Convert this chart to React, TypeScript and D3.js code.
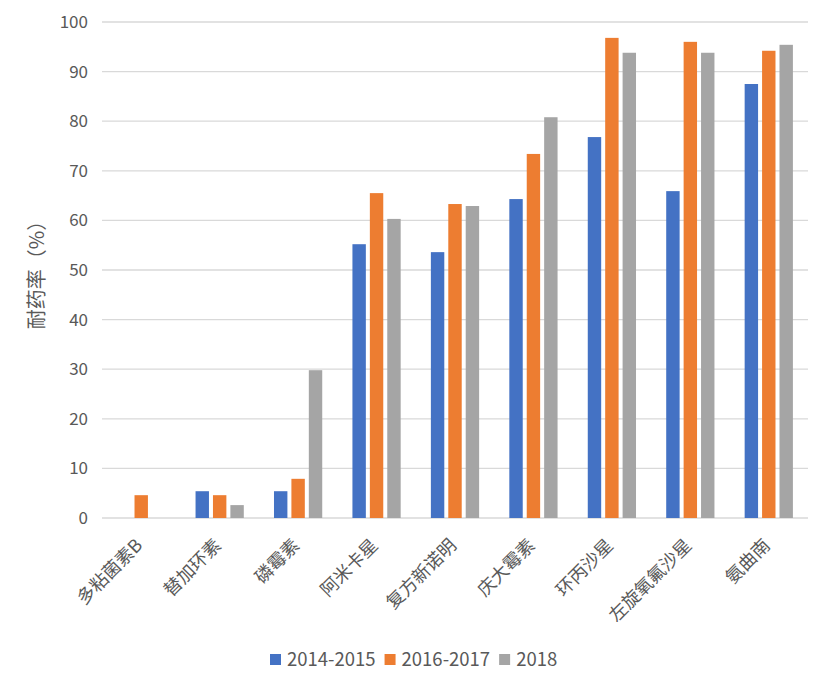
import { useEffect, useRef } from 'react';
import * as d3 from 'd3';

const categories = ['多粘菌素B', '替加环素', '磷霉素', '阿米卡星', '复方新诺明', '庆大霉素', '环丙沙星', '左旋氧氟沙星', '氨曲南'];
const seriesNames = ['2014-2015', '2016-2017', '2018'];
const colors = ['#4472C4', '#ED7D31', '#A5A5A5'];
const values2014 = [0, 5.4, 5.4, 55.2, 53.6, 64.3, 76.8, 65.9, 87.5];
const values2016 = [4.6, 4.6, 7.9, 65.5, 63.3, 73.4, 96.8, 96.0, 94.2];
const values2018 = [0, 2.6, 29.8, 60.3, 62.9, 80.8, 93.8, 93.8, 95.4];
const yTicks = [0, 10, 20, 30, 40, 50, 60, 70, 80, 90, 100];

const width = 831;
const height = 691;
const margin = { left: 102, right: 23, top: 22, bottom: 173 };
const font = '"Noto Sans CJK SC", "Noto Sans", sans-serif';
const textColor = '#595959';

function App() {
  const svgRef = useRef<SVGSVGElement>(null);

  useEffect(() => {
    if (svgRef.current === null) return;
    const svg = d3.select(svgRef.current);
    svg.selectAll('*').remove();

    const graphWidth = width - margin.left - margin.right;
    const graphHeight = height - margin.top - margin.bottom;
    const series = [values2014, values2016, values2018];

    const x0 = d3.scaleBand()
      .domain(categories)
      .range([0, graphWidth])
      .paddingInner(0.385)
      .paddingOuter(0.1925);

    const x1 = d3.scaleBand()
      .domain(seriesNames)
      .range([0, x0.bandwidth()])
      .paddingInner(0.23);

    const y = d3.scaleLinear().domain([0, 100]).range([graphHeight, 0]);

    const body = svg.append('g').attr('transform', `translate(${margin.left}, ${margin.top})`);

    // gridlines
    body.append('g')
      .selectAll('line')
      .data(yTicks)
      .enter()
      .append('line')
      .attr('x1', 0)
      .attr('x2', graphWidth)
      .attr('y1', (d) => y(d))
      .attr('y2', (d) => y(d))
      .attr('stroke', '#D9D9D9')
      .attr('stroke-width', 1.3);

    // y tick labels
    body.append('g')
      .selectAll('text')
      .data(yTicks)
      .enter()
      .append('text')
      .attr('x', -14)
      .attr('y', (d) => y(d))
      .attr('dy', '0.35em')
      .attr('text-anchor', 'end')
      .attr('font-family', font)
      .attr('font-size', 17)
      .attr('fill', textColor)
      .text((d) => d);

    // bars
    const groups = body.append('g')
      .selectAll('g')
      .data(categories)
      .enter()
      .append('g')
      .attr('transform', (d) => `translate(${x0(d)}, 0)`);

    groups.selectAll('rect')
      .data((_, i) => series.map((s, k) => ({ name: seriesNames[k], value: s[i], color: colors[k] })))
      .enter()
      .append('rect')
      .attr('x', (d) => x1(d.name) || 0)
      .attr('y', (d) => y(d.value))
      .attr('width', x1.bandwidth())
      .attr('height', (d) => graphHeight - y(d.value))
      .attr('fill', (d) => d.color);

    // x labels
    body.append('g')
      .selectAll('text')
      .data(categories)
      .enter()
      .append('text')
      .attr('transform', (d) => `translate(${(x0(d) || 0) + x0.bandwidth() / 2 - 2}, ${graphHeight + 24}) rotate(-45)`)
      .attr('text-anchor', 'end')
      .attr('dy', '0.35em')
      .attr('font-family', font)
      .attr('font-size', 18)
      .attr('fill', textColor)
      .text((d) => d);

    // y title
    svg.append('text')
      .attr('transform', `translate(37, 270) rotate(-90)`)
      .attr('text-anchor', 'middle')
      .attr('dy', '0.35em')
      .attr('font-family', font)
      .attr('font-size', 20)
      .attr('fill', textColor)
      .text('耐药率（%）');

    // legend
    const legend = svg.append('g').attr('transform', 'translate(270, 660)');
    let offset = 0;
    seriesNames.forEach((name, i) => {
      const item = legend.append('g').attr('transform', `translate(${offset}, 0)`);
      item.append('rect')
        .attr('x', 0)
        .attr('y', -6)
        .attr('width', 11)
        .attr('height', 11)
        .attr('fill', colors[i]);
      const t = item.append('text')
        .attr('x', 17)
        .attr('y', 0)
        .attr('dy', '0.35em')
        .attr('font-family', font)
        .attr('font-size', 18.5)
        .attr('fill', textColor)
        .text(name);
      const len = (t.node() as SVGTextElement).getComputedTextLength();
      offset += 17 + len + 9;
    });
  }, [svgRef]);

  return (
    <svg
      ref={svgRef}
      width={width}
      height={height}
      style={{ position: 'absolute', left: 0, top: 0, background: '#fff' }}
    />
  );
}

export default App;
